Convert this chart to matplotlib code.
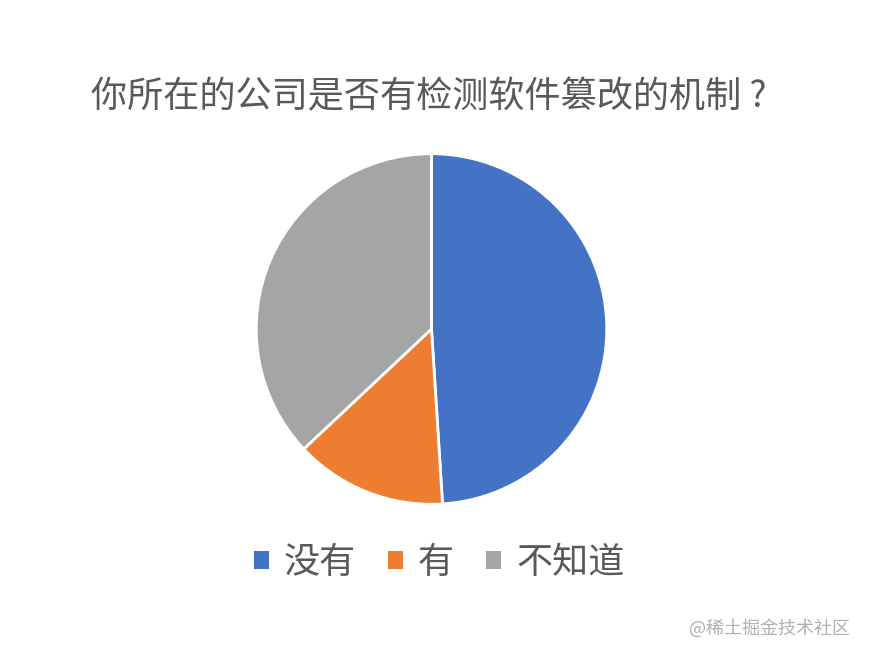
import matplotlib
matplotlib.use("Agg")
import matplotlib.pyplot as plt
from matplotlib.patches import Patch

plt.rcParams['font.family'] = ['Noto Sans CJK SC', 'DejaVu Sans']

title = '你所在的公司是否有检测软件篡改的机制 ?'
labels = ['没有', '有', '不知道']
values = [49, 14, 37]
colors = ['#4472C4', '#ED7D31', '#A5A5A5']

W, H = 870, 658
fig = plt.figure(figsize=(W / 100, H / 100), dpi=100)

# pie axes placed in pixel terms: centre (431, 329), radius 177
cx, cy, r = 431.5, 329, 177
ax = fig.add_axes([(cx - r) / W, (H - cy - r) / H, 2 * r / W, 2 * r / H])
ax.pie(values, colors=colors, startangle=90, counterclock=False, radius=1,
       wedgeprops=dict(edgecolor='white', linewidth=2))
ax.set_xlim(-1.01, 1.01)
ax.set_ylim(-1.01, 1.01)
ax.axis('off')

fig.text(429 / W, 1 - 97 / H, title, ha='center', va='center',
         fontsize=26, color='#595959')

handles = [Patch(facecolor=c, edgecolor='none') for c in colors]
fig.legend(handles, labels, loc='center', bbox_to_anchor=(439 / W, 1 - 563 / H),
           ncol=3, frameon=False, fontsize=26, labelcolor='#595959',
           handlelength=0.42, handleheight=0.42, handletextpad=0.4,
           columnspacing=0.9)

fig.text(850 / W, 1 - 628 / H, '@稀土掘金技术社区', ha='right', va='center',
         fontsize=13, color='#B0B0B0')

fig.savefig('out.png', dpi=100)
